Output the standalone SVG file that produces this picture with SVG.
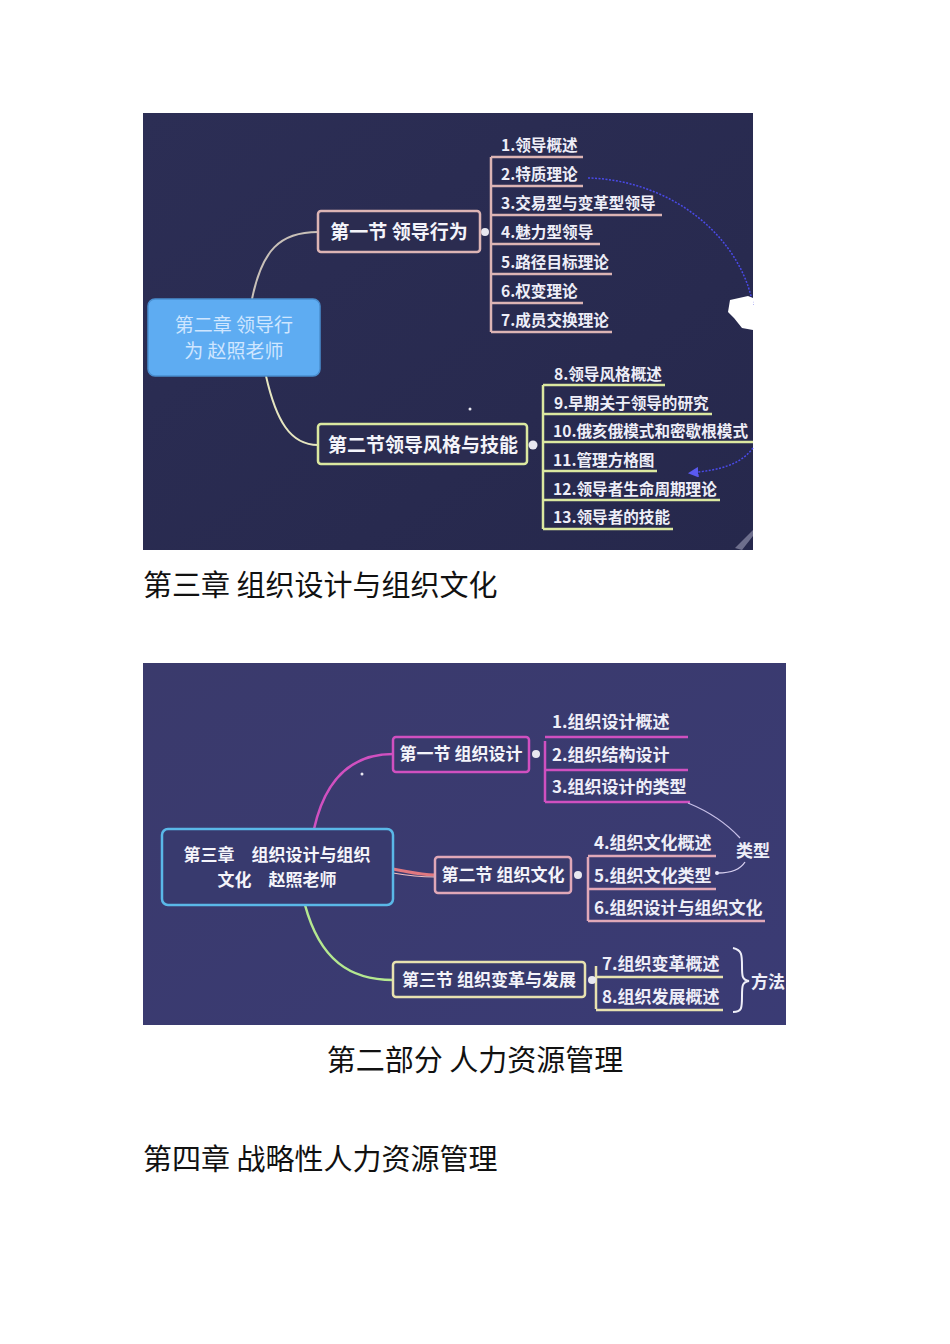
<svg xmlns="http://www.w3.org/2000/svg" width="950" height="1344" viewBox="0 0 950 1344">
<defs>
<style>
.cap{font-family:"Noto Sans CJK SC","Noto Sans",sans-serif;font-size:29px;fill:#111;}
.it{font-family:"Noto Sans CJK SC","Noto Sans",sans-serif;font-size:15.6px;font-weight:bold;fill:#eeeef8;}
.it2{font-family:"Noto Sans CJK SC","Noto Sans",sans-serif;font-size:17px;font-weight:bold;fill:#eeeef8;}
.nd{font-family:"Noto Sans CJK SC","Noto Sans",sans-serif;font-size:19px;font-weight:bold;fill:#f4f4fa;}
.nd2{font-family:"Noto Sans CJK SC","Noto Sans",sans-serif;font-size:17px;font-weight:bold;fill:#f4f4fa;}
.pk{stroke:#dcb4b4;stroke-width:2.5;fill:none;}
.yg{stroke:#dbe8a0;stroke-width:2.5;fill:none;}
.mg{stroke:#d050c0;stroke-width:2.5;fill:none;}
.rs{stroke:#e0a8b8;stroke-width:2.5;fill:none;}
.yl{stroke:#e8e2b0;stroke-width:2.5;fill:none;}
.dot{fill:#e8e8f0;}
</style>
<linearGradient id="bg1" x1="0" y1="0" x2="1" y2="1">
<stop offset="0" stop-color="#2c2e55"/><stop offset="1" stop-color="#26284c"/>
</linearGradient>
<linearGradient id="bg2" x1="0" y1="0" x2="1" y2="1">
<stop offset="0" stop-color="#3a3a6c"/><stop offset="1" stop-color="#3a3b74"/>
</linearGradient>
<marker id="arr" viewBox="0 0 10 10" refX="8" refY="5" markerWidth="7" markerHeight="7" orient="auto"><path d="M0 0 L10 5 L0 10 z" fill="#5a5af0"/></marker>
</defs>
<rect width="950" height="1344" fill="#ffffff"/>

<!-- Panel 1 -->
<rect x="143" y="113" width="610" height="437" fill="url(#bg1)"/>
<g id="connectors1">
<path d="M252 299 C262 250 280 232 318 232" stroke="#c8c0b8" stroke-width="2" fill="none"/>
<path d="M266 376 C276 420 290 445 318 445" stroke="#e6e6c0" stroke-width="2" fill="none"/>
<path class="pk" d="M491 157 V332"/>
<path class="pk" d="M491 157 H583 M491 186 H583 M491 215 H662 M491 244 H600 M491 274 H612 M491 303 H583 M491 332 H612"/>
<path class="yg" d="M543 385 V529"/>
<path class="yg" d="M543 385 H665 M543 414 H712 M543 442 H753 M543 471 H657 M543 500 H720 M543 529 H673"/>
<path d="M588 178 C670 180 740 235 753 305" stroke="#4a4ae8" stroke-width="1.5" stroke-dasharray="2 1.5" fill="none"/>
<path d="M753 448 C740 465 720 470 690 473" stroke="#4a4ae8" stroke-width="1.5" stroke-dasharray="2 1.5" fill="none" marker-end="url(#arr)"/>
<circle class="dot" cx="485" cy="232" r="4"/>
<circle class="dot" cx="533" cy="445" r="4.5"/>
<circle class="dot" cx="470" cy="409" r="1.5"/>
</g>
<path d="M730 300 L748 296 L753 298 L753 330 L742 328 L734 318 L728 312 Z" fill="#ffffff"/>
<path d="M735 548 L753 530 L753 536 L742 550 Z" fill="#8c8ca8" opacity="0.7"/>
<g id="ch2">
<rect x="148" y="299" width="172" height="77" rx="7" fill="#5eacf2" stroke="#4a8ed0" stroke-width="1.5"/>
<text x="234" y="332" text-anchor="middle" class="nd" style="fill:#cfe6ff;font-weight:normal">第二章 领导行</text>
<text x="234" y="358" text-anchor="middle" class="nd" style="fill:#cfe6ff;font-weight:normal">为 赵照老师</text>
</g>
<g id="s1">
<rect x="318" y="211" width="162" height="41" rx="3" fill="#2b2c50" stroke="#dcb4b4" stroke-width="2.5"/>
<text x="399" y="239" text-anchor="middle" class="nd">第一节 领导行为</text>
</g>
<g id="s1items">
<text x="501" y="151" class="it">1.领导概述</text>
<text x="501" y="180" class="it">2.特质理论</text>
<text x="501" y="209" class="it">3.交易型与变革型领导</text>
<text x="501" y="238" class="it">4.魅力型领导</text>
<text x="501" y="268" class="it">5.路径目标理论</text>
<text x="501" y="297" class="it">6.权变理论</text>
<text x="501" y="326" class="it">7.成员交换理论</text>
</g>
<g id="s2">
<rect x="318" y="424" width="209" height="40" rx="3" fill="#2b2c50" stroke="#dbe8a0" stroke-width="2.5"/>
<text x="423" y="452" text-anchor="middle" class="nd">第二节领导风格与技能</text>
</g>
<g id="s2items">
<text x="554" y="380" class="it">8.领导风格概述</text>
<text x="554" y="409" class="it">9.早期关于领导的研究</text>
<text x="553" y="437" class="it">10.俄亥俄模式和密歇根模式</text>
<text x="553" y="466" class="it">11.管理方格图</text>
<text x="553" y="495" class="it">12.领导者生命周期理论</text>
<text x="553" y="523" class="it">13.领导者的技能</text>
</g>

<text x="143" y="596" class="cap">第三章 组织设计与组织文化</text>

<!-- Panel 2 -->
<rect x="143" y="663" width="643" height="362" fill="url(#bg2)"/>
<g id="connectors2">
<path class="mg" d="M314 829 C325 780 350 754 393 754"/>
<path d="M393 869 C410 872 420 875 435 875" stroke="#e07880" stroke-width="3" fill="none"/>
<path d="M393 873 C410 876 420 877 435 877" stroke="#f0c0c0" stroke-width="1.2" fill="none"/>
<path d="M305 905 C320 960 350 980 393 980" stroke="#b4e890" stroke-width="2.5" fill="none"/>
<path class="mg" d="M545 741 V802"/>
<path class="mg" d="M545 737 H688 M545 770 H688 M545 802 H690"/>
<path class="rs" d="M588 857 V921"/>
<path class="rs" d="M588 856 H716 M588 889 H716 M588 921 H765"/>
<path class="yl" d="M596 966 V1009"/>
<path class="yl" d="M596 977 H723 M596 1010 H723"/>
<path d="M688 803 C710 812 728 825 740 838" stroke="#c8c0e8" stroke-width="1.3" fill="none"/>
<path d="M745 862 C740 870 730 873 718 873" stroke="#d8d0f0" stroke-width="1.3" fill="none"/>
<circle cx="717" cy="873" r="2" fill="#e8e8f8"/>
<path d="M733 948 C742 950 742 955 742 966 C742 976 742 980 749 981 C742 982 742 986 742 996 C742 1008 742 1012 733 1012" stroke="#eeeef8" stroke-width="2" fill="none"/>
<circle class="dot" cx="536" cy="754" r="4"/>
<circle class="dot" cx="578" cy="875" r="4"/>
<circle class="dot" cx="592" cy="980" r="4"/>
<circle class="dot" cx="362" cy="774" r="1.5"/>
</g>
<g id="ch3">
<rect x="162" y="829" width="231" height="76" rx="6" fill="#383a6e" stroke="#5ab8e8" stroke-width="2.5"/>
<text x="277" y="861" text-anchor="middle" class="nd2">第三章　组织设计与组织</text>
<text x="277" y="886" text-anchor="middle" class="nd2">文化　赵照老师</text>
</g>
<g id="t1">
<rect x="393" y="737" width="136" height="35" rx="3" fill="#383a6c" stroke="#d050c0" stroke-width="2.5"/>
<text x="461" y="760" text-anchor="middle" class="nd2">第一节 组织设计</text>
</g>
<g id="t1items">
<text x="552" y="728" class="it2">1.组织设计概述</text>
<text x="552" y="761" class="it2">2.组织结构设计</text>
<text x="552" y="793" class="it2">3.组织设计的类型</text>
</g>
<g id="t2">
<rect x="435" y="857" width="136" height="36" rx="3" fill="#383a6c" stroke="#e0a8b8" stroke-width="2.5"/>
<text x="503" y="881" text-anchor="middle" class="nd2">第二节 组织文化</text>
</g>
<g id="t2items">
<text x="594" y="849" class="it2">4.组织文化概述</text>
<text x="594" y="882" class="it2">5.组织文化类型</text>
<text x="594" y="914" class="it2">6.组织设计与组织文化</text>
<text x="736" y="857" class="it2">类型</text>
</g>
<g id="t3">
<rect x="393" y="962" width="192" height="35" rx="3" fill="#383a6c" stroke="#e8e2b0" stroke-width="2.5"/>
<text x="489" y="986" text-anchor="middle" class="nd2">第三节 组织变革与发展</text>
</g>
<g id="t3items">
<text x="602" y="970" class="it2">7.组织变革概述</text>
<text x="602" y="1003" class="it2">8.组织发展概述</text>
<text x="751" y="988" class="it2">方法</text>
</g>

<text x="475" y="1071" text-anchor="middle" class="cap">第二部分 人力资源管理</text>
<text x="143" y="1170" class="cap">第四章 战略性人力资源管理</text>
</svg>
